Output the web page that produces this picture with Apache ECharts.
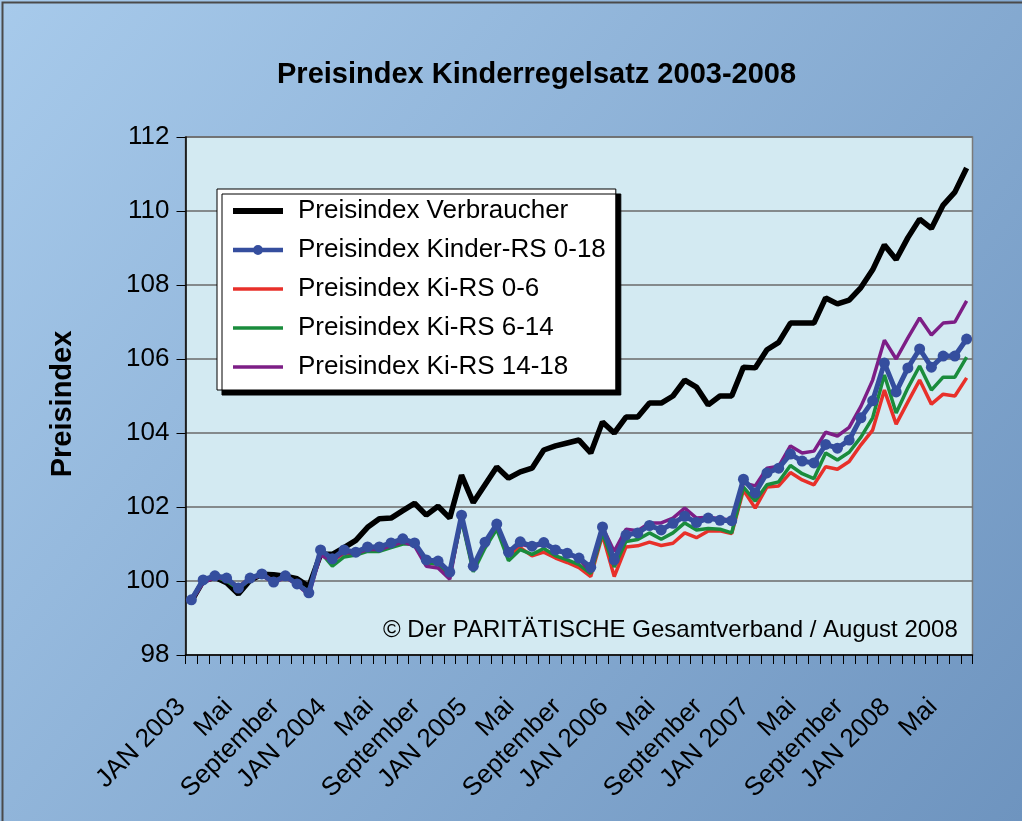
<!DOCTYPE html>
<html>
<head>
<meta charset="utf-8">
<script src="https://cdn.jsdelivr.net/npm/echarts@6/dist/echarts.min.js"></script>
<style>
html,body{margin:0;padding:0;background:#fff;}
#chart{width:1022px;height:821px;}
</style>
</head>
<body>
<div id="chart"></div>
<script>
// ---- data ----
const monthNames = ['JAN','Feb','Mär','Apr','Mai','Jun','Jul','Aug','September','Okt','Nov','Dez'];
const years = [2003, 2004, 2005, 2006, 2007, 2008];
const monthCount = 67; // JAN 2003 .. Jul 2008
const categories = [];
for (let i = 0; i < monthCount; i++) {
  const m = i % 12, y = years[Math.floor(i / 12)];
  categories.push(m === 0 ? 'JAN ' + y : monthNames[m]);
}

const verbraucher = [
  99.45, 100.0, 100.1, 99.95, 99.65, 100.02, 100.18, 100.17, 100.13, 100.06, 99.85, 100.72,
  100.72, 100.9, 101.1, 101.45, 101.68, 101.7, 101.9, 102.1, 101.78, 102.02, 101.7, 102.86,
  102.12, 102.6, 103.08, 102.78, 102.95, 103.05, 103.54, 103.65, 103.73, 103.81, 103.46, 104.3,
  104.0, 104.43, 104.43, 104.81, 104.81, 105.0, 105.43, 105.24, 104.76, 105.0, 105.0, 105.78,
  105.76, 106.25, 106.45, 106.97, 106.97, 106.97, 107.65, 107.49, 107.59, 107.93, 108.41, 109.08,
  108.69, 109.28, 109.78, 109.53, 110.16, 110.51, 111.16
];
const kinder018 = [
  99.49, 100.03, 100.14, 100.08, 99.81, 100.08, 100.19, 99.97, 100.14, 99.92, 99.68, 100.84,
  100.6, 100.84, 100.78, 100.92, 100.92, 101.03, 101.14, 101.03, 100.57, 100.54, 100.24, 101.78,
  100.4, 101.05, 101.54, 100.78, 101.06, 100.94, 101.04, 100.84, 100.75, 100.62, 100.37, 101.46,
  100.57, 101.24, 101.3, 101.5, 101.38, 101.56, 101.75, 101.58, 101.7, 101.64, 101.63, 102.75,
  102.38, 102.92, 103.05, 103.43, 103.24, 103.19, 103.69, 103.59, 103.81, 104.41, 104.87, 105.89,
  105.11, 105.76, 106.27, 105.78, 106.08, 106.08, 106.54
];
const ki06 = [
  99.5, 100.0, 100.12, 100.05, 99.85, 100.08, 100.2, 100.0, 100.12, 99.92, 99.7, 100.75,
  100.55, 100.75, 100.75, 100.85, 100.85, 100.95, 101.05, 101.0, 100.5, 100.45, 100.15, 101.7,
  100.3, 100.95, 101.45, 100.7, 100.9, 100.68, 100.78, 100.62, 100.5, 100.36, 100.12, 101.24,
  100.12, 100.92, 100.95, 101.05, 100.96, 101.02, 101.3, 101.17, 101.35, 101.36, 101.28, 102.46,
  101.97, 102.54, 102.57, 102.93, 102.73, 102.6, 103.09, 103.02, 103.23, 103.68, 104.08, 105.16,
  104.24, 104.84, 105.43, 104.78, 105.05, 105.0, 105.49
];
const ki614 = [
  99.5, 100.0, 100.12, 100.0, 99.78, 100.05, 100.15, 100.0, 100.1, 99.92, 99.72, 100.78,
  100.4, 100.65, 100.7, 100.8, 100.8, 100.9, 101.0, 101.0, 100.5, 100.45, 100.15, 101.65,
  100.25, 100.89, 101.4, 100.55, 100.85, 100.72, 100.88, 100.68, 100.57, 100.44, 100.2, 101.3,
  100.38, 101.07, 101.12, 101.3, 101.13, 101.3, 101.57, 101.38, 101.42, 101.4, 101.3, 102.54,
  102.16, 102.6, 102.68, 103.12, 102.9, 102.77, 103.46, 103.27, 103.48, 103.89, 104.41, 105.57,
  104.54, 105.22, 105.81, 105.16, 105.51, 105.51, 106.05
];
const ki1418 = [
  99.45, 99.95, 100.1, 100.05, 99.8, 100.05, 100.15, 99.95, 100.1, 99.9, 99.62, 100.7,
  100.55, 100.78, 100.75, 100.85, 100.85, 100.95, 101.05, 100.95, 100.4, 100.35, 100.05, 101.75,
  100.38, 101.0, 101.52, 100.8, 101.0, 100.92, 101.0, 100.84, 100.73, 100.6, 100.25, 101.46,
  100.8, 101.4, 101.36, 101.57, 101.57, 101.7, 101.97, 101.7, 101.72, 101.68, 101.65, 102.65,
  102.57, 103.05, 103.1, 103.65, 103.46, 103.51, 104.02, 103.92, 104.15, 104.72, 105.43, 106.51,
  106.0, 106.57, 107.11, 106.65, 106.97, 107.0, 107.57
];

const seriesNames = [
  'Preisindex Verbraucher',
  'Preisindex Kinder-RS 0-18',
  'Preisindex Ki-RS 0-6',
  'Preisindex Ki-RS 6-14',
  'Preisindex Ki-RS 14-18'
];
const titleText = 'Preisindex Kinderregelsatz 2003-2008';
const yAxisName = 'Preisindex';
const noteText = '© Der PARITÄTISCHE Gesamtverband / August 2008';
const yMin = 98, yMax = 112, yStep = 2;

// legend icon shapes (line swatches)
const iconThick = 'path://M0,0L100,0L100,12L0,12Z';
const iconThin = 'path://M0,0L100,0L100,7L0,7Z';
const iconDot = 'path://M0,5L100,5L100,14L0,14Z M40,9.5a10,10 0 1,1 20,0a10,10 0 1,1 -20,0Z';

// ---- chart ----
const chart = echarts.init(document.getElementById('chart'), null, {renderer: 'canvas'});
const font = 'Arial, "Liberation Sans", Helvetica, sans-serif';

const option = {
  animation: false,
  backgroundColor: {
    type: 'linear', x: 0, y: 0, x2: 1, y2: 1,
    colorStops: [{offset: 0, color: '#a7caeb'}, {offset: 1, color: '#6e94bf'}]
  },
  title: {
    text: titleText,
    left: 277, top: 60, padding: 0,
    textStyle: {fontFamily: font, fontSize: 29, fontWeight: 'bold', color: '#000'}
  },
  grid: {
    left: 185.5, top: 137, right: 49.5, bottom: 166,
    show: true, backgroundColor: '#d3eaf2', borderColor: '#7a7a7a', borderWidth: 1.5
  },
  legend: {
    data: [
      {name: seriesNames[0], icon: iconThick},
      {name: seriesNames[1], icon: iconDot},
      {name: seriesNames[2], icon: iconThin},
      {name: seriesNames[3], icon: iconThin},
      {name: seriesNames[4], icon: iconThin}
    ],
    orient: 'vertical',
    left: 217, top: 189,
    padding: [9, 10, 10, 16],
    itemWidth: 50, itemHeight: 14, itemGap: 13,
    symbolKeepAspect: true,
    backgroundColor: '#ffffff', borderColor: '#000', borderWidth: 1,
    shadowColor: '#000', shadowBlur: 0, shadowOffsetX: 5, shadowOffsetY: 5,
    textStyle: {fontFamily: font, fontSize: 26, color: '#000', lineHeight: 26, padding: [0, 0, 0, 10]},
    z: 20
  },
  xAxis: {
    type: 'category',
    data: categories,
    boundaryGap: true,
    axisLine: {lineStyle: {color: '#000', width: 1.5}},
    axisTick: {show: true, interval: 0, length: 9, lineStyle: {color: '#000', width: 1}},
    axisLabel: {
      interval: 3, rotate: 45, margin: 38, padding: [0, 14, 0, 0],
      fontFamily: font, fontSize: 26, color: '#000'
    },
    splitLine: {show: false}
  },
  yAxis: {
    type: 'value',
    min: yMin, max: yMax, interval: yStep,
    name: yAxisName,
    nameLocation: 'middle', nameGap: 108,
    nameTextStyle: {fontFamily: font, fontSize: 29, fontWeight: 'bold', color: '#000', padding: [0, 16, 0, 0]},
    axisLine: {show: true, lineStyle: {color: '#000', width: 1.5}},
    axisTick: {show: true, length: 9, lineStyle: {color: '#000', width: 1}},
    axisLabel: {margin: 16, fontFamily: font, fontSize: 26, color: '#000'},
    splitLine: {show: true, lineStyle: {color: '#6a6a6a', width: 1.5}}
  },
  graphic: [
    {
      type: 'rect', left: 0, top: 0, z: 100, silent: true,
      shape: {x: 0, y: 0, width: 1021, height: 820},
      style: {fill: 'none', stroke: '#4a4a4a', lineWidth: 2}
    },
    {
      type: 'text', left: 383, top: 618, z: 30,
      style: {text: noteText, fill: '#000', font: '24px ' + font}
    }
  ],
  series: [
    {
      name: seriesNames[0], type: 'line', data: verbraucher, z: 2,
      symbol: 'none', lineStyle: {color: '#000000', width: 5.5}, itemStyle: {color: '#000000'}
    },
    {
      name: seriesNames[2], type: 'line', data: ki06, z: 3,
      symbol: 'none', lineStyle: {color: '#e8302a', width: 3.5}, itemStyle: {color: '#e8302a'}
    },
    {
      name: seriesNames[3], type: 'line', data: ki614, z: 4,
      symbol: 'none', lineStyle: {color: '#1a8c3c', width: 3.5}, itemStyle: {color: '#1a8c3c'}
    },
    {
      name: seriesNames[4], type: 'line', data: ki1418, z: 5,
      symbol: 'none', lineStyle: {color: '#7d1e86', width: 3.5}, itemStyle: {color: '#7d1e86'}
    },
    {
      name: seriesNames[1], type: 'line', data: kinder018, z: 6,
      symbol: 'circle', symbolSize: 11, showAllSymbol: true,
      lineStyle: {color: '#354e9e', width: 5}, itemStyle: {color: '#354e9e', borderWidth: 0}
    }
  ]
};
chart.setOption(option);
</script>
</body>
</html>
